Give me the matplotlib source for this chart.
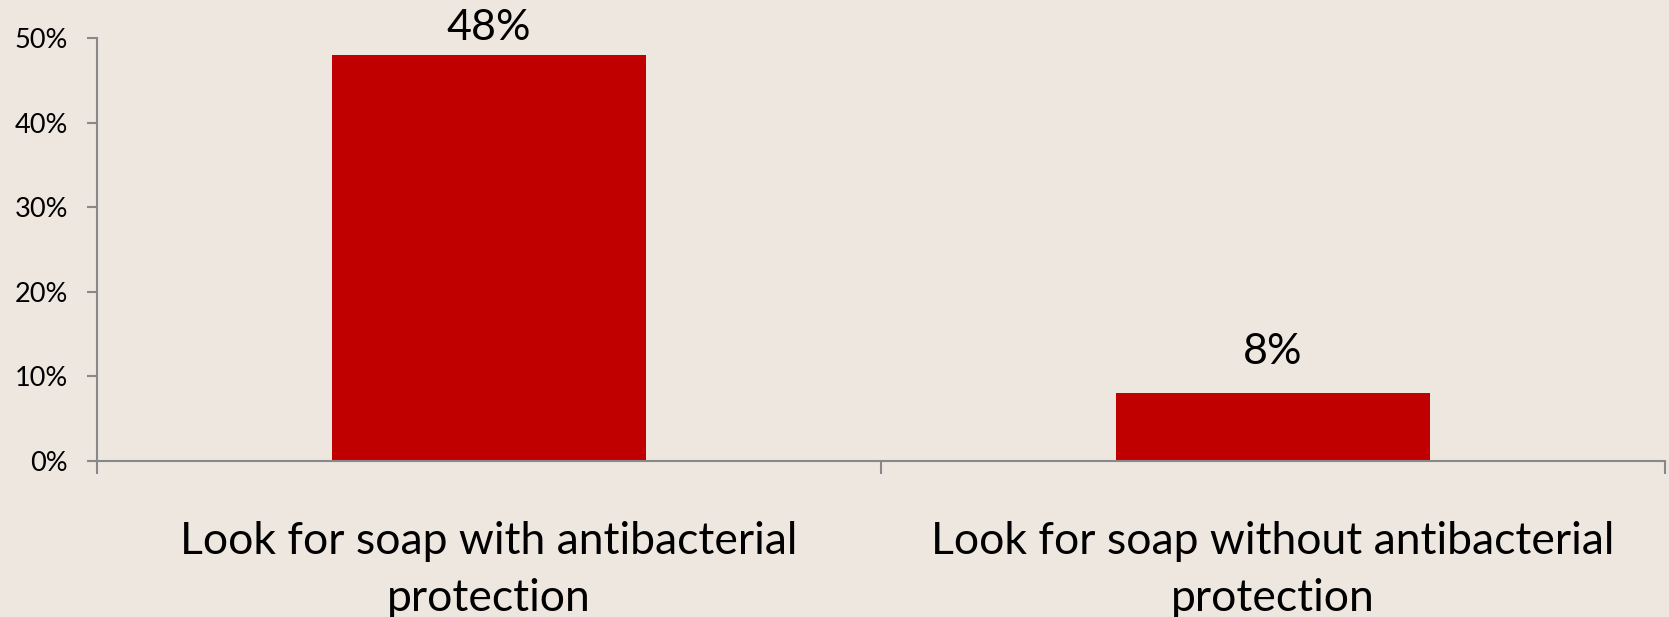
import matplotlib
matplotlib.use("Agg")
import matplotlib.pyplot as plt
from matplotlib.ticker import PercentFormatter, FixedLocator

categories = ["Look for soap with antibacterial\nprotection",
              "Look for soap without antibacterial\nprotection"]
values = [0.48, 0.08]
value_labels = ["48%", "8%"]
yticks = [0, 0.1, 0.2, 0.3, 0.4, 0.5]

BG = "#EEE7E0"
BAR = "#C00000"
AX = "#888888"

plt.rcParams['font.family'] = ['Lato', 'DejaVu Sans']

fig = plt.figure(figsize=(16.69, 6.17), dpi=100, facecolor=BG)
ax = fig.add_axes([97/1669, 1-461/617, (1665-97)/1669, (461-38)/617])
ax.set_facecolor(BG)

x = list(range(len(categories)))
bars = ax.bar(x, values, width=0.4, color=BAR, zorder=2)

ax.set_xlim(-0.5, len(categories) - 0.5)
ax.set_ylim(0, 0.5)
ax.set_yticks(yticks)
ax.yaxis.set_major_formatter(PercentFormatter(1.0, decimals=0))
ax.tick_params(axis='y', labelsize=19.5, colors=AX, labelcolor='black',
               length=7, width=1.5, pad=14, direction='out')

ax.set_xticks(x)
ax.set_xticklabels(categories, fontsize=32, linespacing=1.5)
ax.tick_params(axis='x', length=0, pad=43, labelcolor='black')
ax.xaxis.set_minor_locator(FixedLocator([-0.5, 0.5, 1.5]))
ax.tick_params(axis='x', which='minor', length=9, width=1.5, colors=AX, direction='out')

for s in ['top', 'right']:
    ax.spines[s].set_visible(False)
for s in ['left', 'bottom']:
    ax.spines[s].set_color(AX)
    ax.spines[s].set_linewidth(1.5)

offsets = [6, 16]
for xi, v, lab, off in zip(x, values, value_labels, offsets):
    ax.annotate(lab, (xi, v), xytext=(0, off), textcoords='offset points',
                ha='center', va='bottom', fontsize=31, color='black')

fig.savefig("out.png", dpi=100, facecolor=BG)
